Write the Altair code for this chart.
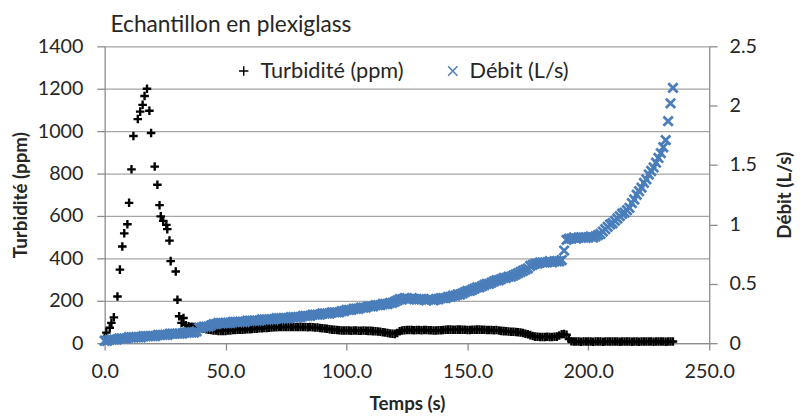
import altair as alt
import pandas as pd

# ---------------- data ----------------
SERIES = ["Turbidité (ppm)", "Débit (L/s)"]

# Turbidity: early peak (individual points)
TURB_PEAK_T = [0.0, 0.7, 2.1, 2.8, 3.8, 5.3, 6.3, 7.3, 8.1, 9.4, 10.1, 11.1, 11.9,
               13.7, 14.7, 15.7, 16.5, 17.5, 18.5, 19.2, 20.7, 21.8, 22.7, 23.2,
               24.2, 25.5, 25.9, 26.8, 27.3, 29.4, 30.1, 30.8, 31.8, 32.6, 33.6,
               34.7, 35.5]
TURB_PEAK_V = [30, 50, 73, 96, 122, 220, 347, 456, 518, 561, 662, 820, 977,
               1057, 1092, 1124, 1166, 1200, 1096, 991, 833, 747, 651, 598,
               577, 558, 538, 484, 387, 338, 205, 127, 96, 119, 85,
               80, 75]

# Turbidity: dense band, one reading per second from t = 36 s to 235 s
TURB_BAND_T0 = 36
TURB_BAND_V = [
    78, 76, 74, 72,
    70, 68, 66, 64, 62, 60, 60, 58, 58, 58,
    58, 60, 60, 62, 62, 63, 64, 64, 65, 66,
    66, 67, 68, 68, 70, 70, 72, 72, 73, 74,
    75, 75, 76, 76, 76, 77, 76, 77, 77, 76,
    76, 77, 76, 76, 75, 76, 75, 74, 74, 72,
    70, 69, 68, 66, 64, 63, 62, 61, 60, 60,
    60, 60, 59, 60, 60, 59, 59, 60, 59, 58,
    58, 57, 56, 55, 54, 52, 50, 48, 46, 45,
    44, 48, 56, 60, 61, 62, 62, 62, 61, 62,
    62, 61, 62, 62, 61, 61, 60, 60, 61, 61,
    62, 63, 64, 64, 63, 63, 64, 64, 63, 63,
    62, 62, 63, 63, 64, 64, 63, 63, 62, 62,
    62, 61, 62, 60, 58, 57, 56, 55, 54, 54,
    53, 52, 50, 48, 45, 42, 38, 34, 31, 30,
    29, 29, 29, 30, 29, 29, 30, 31, 36, 42,
    43, 40, 20, 9, 8, 8, 8, 7, 8, 8,
    8, 8, 7, 8, 8, 8, 7, 8, 8, 8,
    8, 8, 8, 7, 8, 8, 8, 8, 7, 8,
    8, 7, 8, 8, 8, 8, 8, 7, 8, 8,
    8, 8, 7, 8, 8, 8,
]

# Flow rate (L/s): one reading per second from t = 0 s to 235 s
DEBIT_T0 = 0
DEBIT_V = [
    0.02, 0.02, 0.03, 0.03, 0.03, 0.03, 0.04, 0.04, 0.04, 0.04,
    0.05, 0.05, 0.05, 0.05, 0.05, 0.05, 0.06, 0.06, 0.06, 0.06,
    0.06, 0.06, 0.07, 0.07, 0.07, 0.07, 0.07, 0.08, 0.08, 0.08,
    0.08, 0.08, 0.08, 0.09, 0.09, 0.09, 0.09, 0.09, 0.10, 0.13,
    0.13, 0.14, 0.14, 0.14, 0.15, 0.16, 0.16, 0.17, 0.17, 0.17,
    0.17, 0.17, 0.17, 0.18, 0.18, 0.18, 0.18, 0.18, 0.18, 0.19,
    0.19, 0.19, 0.19, 0.19, 0.19, 0.20, 0.20, 0.20, 0.20, 0.20,
    0.20, 0.21, 0.21, 0.21, 0.21, 0.21, 0.21, 0.22, 0.22, 0.22,
    0.22, 0.22, 0.23, 0.23, 0.23, 0.23, 0.24, 0.24, 0.24, 0.24,
    0.25, 0.25, 0.25, 0.25, 0.26, 0.26, 0.26, 0.26, 0.27, 0.27,
    0.28, 0.28, 0.28, 0.29, 0.29, 0.29, 0.30, 0.30, 0.30, 0.31,
    0.31, 0.31, 0.32, 0.32, 0.32, 0.33, 0.33, 0.33, 0.34, 0.34,
    0.35, 0.36, 0.37, 0.37, 0.38, 0.38, 0.37, 0.38, 0.37, 0.37,
    0.37, 0.37, 0.37, 0.36, 0.37, 0.37, 0.36, 0.37, 0.37, 0.38,
    0.38, 0.38, 0.39, 0.39, 0.40, 0.40, 0.41, 0.41, 0.42, 0.43,
    0.44, 0.44, 0.45, 0.46, 0.47, 0.47, 0.48, 0.49, 0.50, 0.50,
    0.51, 0.52, 0.53, 0.53, 0.54, 0.55, 0.55, 0.56, 0.56, 0.57,
    0.58, 0.59, 0.60, 0.61, 0.62, 0.63, 0.65, 0.66, 0.67, 0.67,
    0.68, 0.68, 0.68, 0.68, 0.69, 0.68, 0.69, 0.69, 0.69, 0.70,
    0.78, 0.87, 0.88, 0.88, 0.89, 0.88, 0.89, 0.89, 0.89, 0.89,
    0.89, 0.90, 0.89, 0.90, 0.91, 0.92, 0.94, 0.96, 0.98, 1.00,
    1.01, 1.03, 1.05, 1.07, 1.09, 1.10, 1.12, 1.14, 1.18, 1.21,
    1.25, 1.28, 1.31, 1.35, 1.38, 1.42, 1.45, 1.48, 1.52, 1.56,
    1.60, 1.65, 1.71, 1.87, 2.02, 2.15,
]

X_TICKS = [0, 50, 100, 150, 200, 250]
Y1_TICKS = [0, 200, 400, 600, 800, 1000, 1200, 1400]
Y2_TICKS = [0, 0.5, 1, 1.5, 2, 2.5]

# ---------------- tables ----------------
turb_t = TURB_PEAK_T + [TURB_BAND_T0 + i for i in range(len(TURB_BAND_V))]
turb_v = TURB_PEAK_V + TURB_BAND_V
df_turb = pd.DataFrame({"t": turb_t, "v": turb_v, "s": SERIES[0]})
df_deb = pd.DataFrame({"t": [DEBIT_T0 + i for i in range(len(DEBIT_V))],
                       "v": DEBIT_V, "s": SERIES[1]})

FONT = "Lato"
TXT = "#262626"
GRID = "#A6A6A6"
AX = "#8C8C8C"
BLUE = "#4A7EBB"
PLUS = "M-1,0L1,0M0,-1L0,1"
CROSS = "M-1,-1L1,1M-1,1L1,-1"

color = alt.Color("s:N",
                  scale=alt.Scale(domain=SERIES, range=["#000000", BLUE]),
                  legend=alt.Legend(orient="none", legendX=130, legendY=14,
                                    direction="horizontal", title=None,
                                    labelFont=FONT, labelFontSize=22,
                                    labelColor=TXT, symbolSize=90,
                                    symbolStrokeWidth=1.5, columnPadding=38,
                                    labelOffset=6))
shape = alt.Shape("s:N", scale=alt.Scale(domain=SERIES, range=[PLUS, CROSS]))

x = alt.X("t:Q", scale=alt.Scale(domain=[0, 250], nice=False),
          axis=alt.Axis(values=X_TICKS, format=".1f", title="Temps (s)",
                        grid=False, tickSize=7, labelPadding=12,
                        labelFlush=False, titlePadding=13))

turb = alt.Chart(df_turb).mark_point(filled=False, strokeWidth=2.4, size=75,
                                     opacity=1).encode(
    x=x,
    y=alt.Y("v:Q", scale=alt.Scale(domain=[0, 1400], nice=False),
            axis=alt.Axis(values=Y1_TICKS, format="d", title="Turbidité (ppm)",
                          grid=True, gridColor=GRID, tickSize=8,
                          labelPadding=14, titlePadding=7)),
    color=color, shape=shape,
)

deb = alt.Chart(df_deb).mark_point(filled=False, strokeWidth=2.8, size=90,
                                   opacity=1).encode(
    x=x,
    y=alt.Y("v:Q", scale=alt.Scale(domain=[0, 2.5], nice=False),
            axis=alt.Axis(values=Y2_TICKS, format="~g", title="Débit (L/s)",
                          orient="right", grid=False, tickSize=8,
                          labelPadding=12, titlePadding=38, titleAngle=270)),
    color=color, shape=shape,
)

chart = alt.layer(turb, deb).resolve_scale(y="independent").properties(
    width=613, height=301,
    autosize=alt.AutoSizeParams(type="none"),
    padding={"left": 98, "top": 36, "right": 90, "bottom": 74},
    title=alt.TitleParams("Echantillon en plexiglass", anchor="start",
                          frame="group", font=FONT, fontSize=23,
                          fontWeight="normal", color=TXT, offset=0, dx=6),
).configure_view(stroke=None).configure_axis(
    labelFont=FONT, labelFontSize=20, labelColor=TXT,
    titleFont=FONT, titleFontSize=19, titleFontWeight="bold", titleColor=TXT,
    domainColor=AX, tickColor=AX, domainWidth=1.3, tickWidth=1.3,
    gridWidth=1.3,
)

chart.save("out.html", embed_options={"renderer": "svg", "actions": False})
